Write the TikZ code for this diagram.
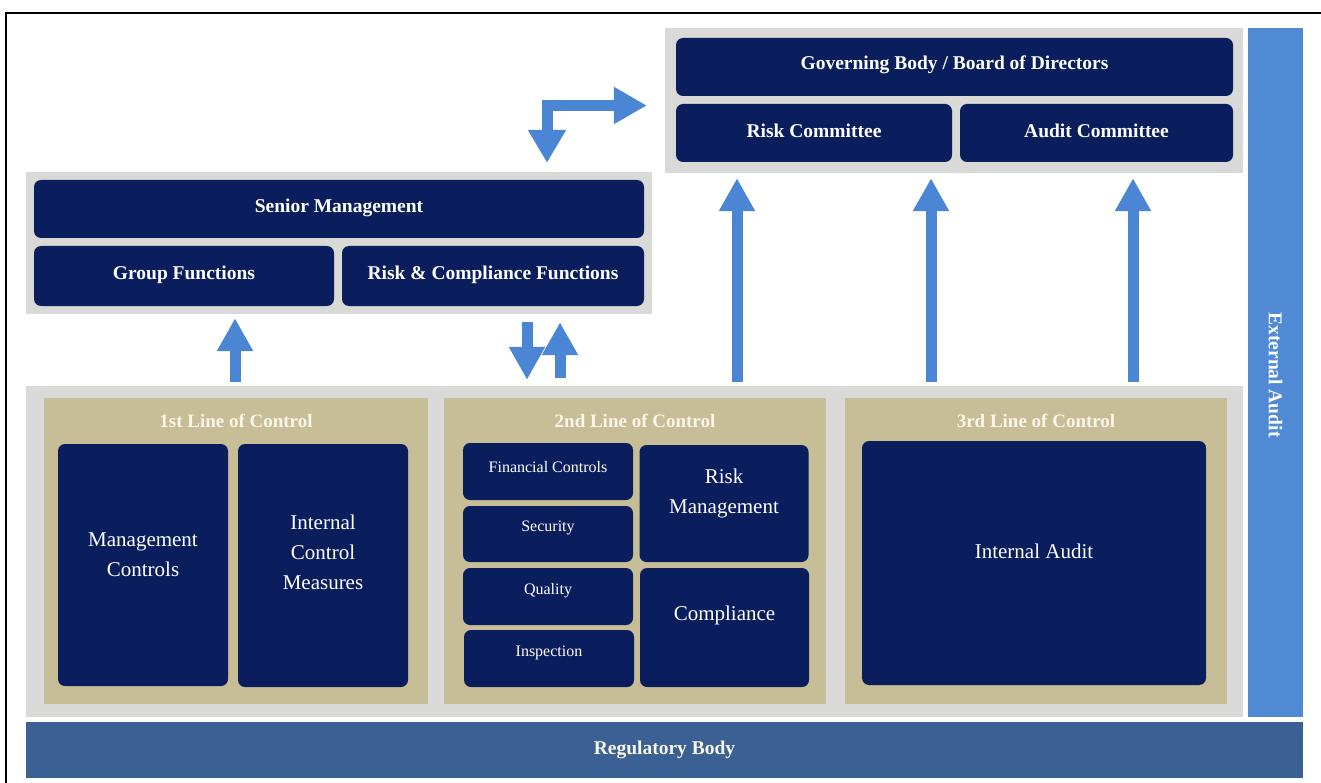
\documentclass[tikz,border=0pt]{standalone}
\usepackage{fontspec}
\setmainfont{Liberation Serif}
\usepackage{tikz}
\usetikzlibrary{arrows.meta}

\definecolor{navy}{RGB}{10,30,94}
\definecolor{panelgrey}{RGB}{217,217,215}
\definecolor{tanbg}{RGB}{199,189,150}
\definecolor{arrowblue}{RGB}{74,134,212}
\definecolor{extblue}{RGB}{80,138,212}
\definecolor{regblue}{RGB}{58,96,148}
\definecolor{cream}{RGB}{250,246,232}

\begin{document}
\begin{tikzpicture}[x=1pt,y=-1pt,
    grey/.style={fill=panelgrey, inner sep=0pt},
    tan/.style={fill=tanbg, inner sep=0pt},
    blk/.style={fill=navy, rounded corners=7pt, text=white, align=center, inner sep=0pt},
    head/.style={font=\fontsize{19.5}{22}\selectfont\bfseries},
    title/.style={font=\fontsize{19}{22}\selectfont\bfseries, text=cream},
    big/.style={font=\fontsize{21}{30}\selectfont},
    small/.style={font=\fontsize{16}{18}\selectfont},
    lift/.style={text depth=#1},
    fat/.style={draw=arrowblue, line width=11pt, -{Triangle[width=34pt,length=33pt]}}]
            \useasboundingbox (0,0) rectangle (1321,783);
            \draw[line width=1.5pt] (6,783) -- (6,13) -- (1321,13);

            \node[grey, minimum width=578, minimum height=145] (board) at (954,100.5) {};
            \node[blk, head, lift=9pt, minimum width=557, minimum height=58] (gov) at (954.5,67) {Governing Body / Board of Directors};
            \node[blk, head, lift=4pt, minimum width=276, minimum height=58] (riskc) at (814,133) {Risk Committee};
            \node[blk, head, lift=4pt, minimum width=273, minimum height=58] (auditc) at (1096.5,133) {Audit Committee};

            \node[fill=extblue, inner sep=0pt, minimum width=55, minimum height=689] (ext) at (1275.5,372.5) {};
            \node[head, text=white, rotate=-90] (extl) at (1275.5,375) {External Audit};
            \node[fill=regblue, head, text=cream, inner sep=0pt, minimum width=1277, minimum height=56] (reg) at (664.5,750) {Regulatory Body};

            \node[grey, minimum width=626, minimum height=142] (mgmt) at (339,243) {};
            \node[blk, head, lift=7pt, minimum width=610, minimum height=58] (senior) at (339,209) {Senior Management};
            \node[blk, head, lift=6pt, minimum width=300, minimum height=60] (groupf) at (184,276) {Group Functions};
            \node[blk, head, lift=6pt, minimum width=302, minimum height=60] (riskcf) at (493,276) {Risk \& Compliance Functions};

            \node[grey, minimum width=1217, minimum height=331] (lines) at (634.5,551.5) {};
            \node[tan, minimum width=384, minimum height=306] (line1) at (236,551) {};
            \node[tan, minimum width=382, minimum height=306] (line2) at (635,551) {};
            \node[tan, minimum width=382, minimum height=306] (line3) at (1036,551) {};
            \node[title] (t1) at (236,421) {1st Line of Control};
            \node[title] (t2) at (635,421) {2nd Line of Control};
            \node[title] (t3) at (1036,421) {3rd Line of Control};

            \node[blk, big, lift=20pt, minimum width=170, minimum height=242] (mc) at (143,565) {Management\\Controls};
            \node[blk, big, lift=26pt, minimum width=170, minimum height=243] (icm) at (323,565.5) {Internal\\Control\\Measures};

            \node[blk, small, lift=10pt, minimum width=170, minimum height=57] (fin) at (548,471.5) {Financial Controls};
            \node[blk, small, lift=15pt, minimum width=170, minimum height=56] (sec) at (548,534) {Security};
            \node[blk, small, lift=16pt, minimum width=170, minimum height=57] (qual) at (548,596.5) {Quality};
            \node[blk, small, lift=15pt, minimum width=170, minimum height=57] (insp) at (549,658.5) {Inspection};
            \node[blk, big, lift=24pt, minimum width=169, minimum height=117] (riskm) at (724,503.5) {Risk\\Management};
            \node[blk, big, lift=28pt, minimum width=169, minimum height=119] (comp) at (724.5,627.5) {Compliance};

            \node[blk, big, lift=24pt, minimum width=344, minimum height=244] (ia) at (1034,563) {Internal Audit};

            \draw[fat, shorten <=4pt, shorten >=4pt] (235,0 |- lines.north) -- (235,0 |- mgmt.south);
            \draw[fat, shorten <=8pt, shorten >=6pt] (527,0 |- mgmt.south) -- (527,0 |- lines.north);
            \draw[fat, shorten <=8pt, shorten >=8pt] (560,0 |- lines.north) -- (560,0 |- mgmt.south);
            \draw[fat, shorten <=4pt, shorten >=5pt] (737,0 |- lines.north) -- (737,0 |- board.south);
            \draw[fat, shorten <=4pt, shorten >=5pt] (931,0 |- lines.north) -- (931,0 |- board.south);
            \draw[fat, shorten <=4pt, shorten >=5pt] (1133,0 |- lines.north) -- (1133,0 |- board.south);
            \draw[fat, {Triangle[width=36pt,length=33pt]}-{Triangle[width=35pt,length=33pt]}, shorten <=9pt, shorten >=18pt]
                (547,0 |- mgmt.north) |- ([yshift=-5pt]board.west);
        \end{tikzpicture}
\end{document}
